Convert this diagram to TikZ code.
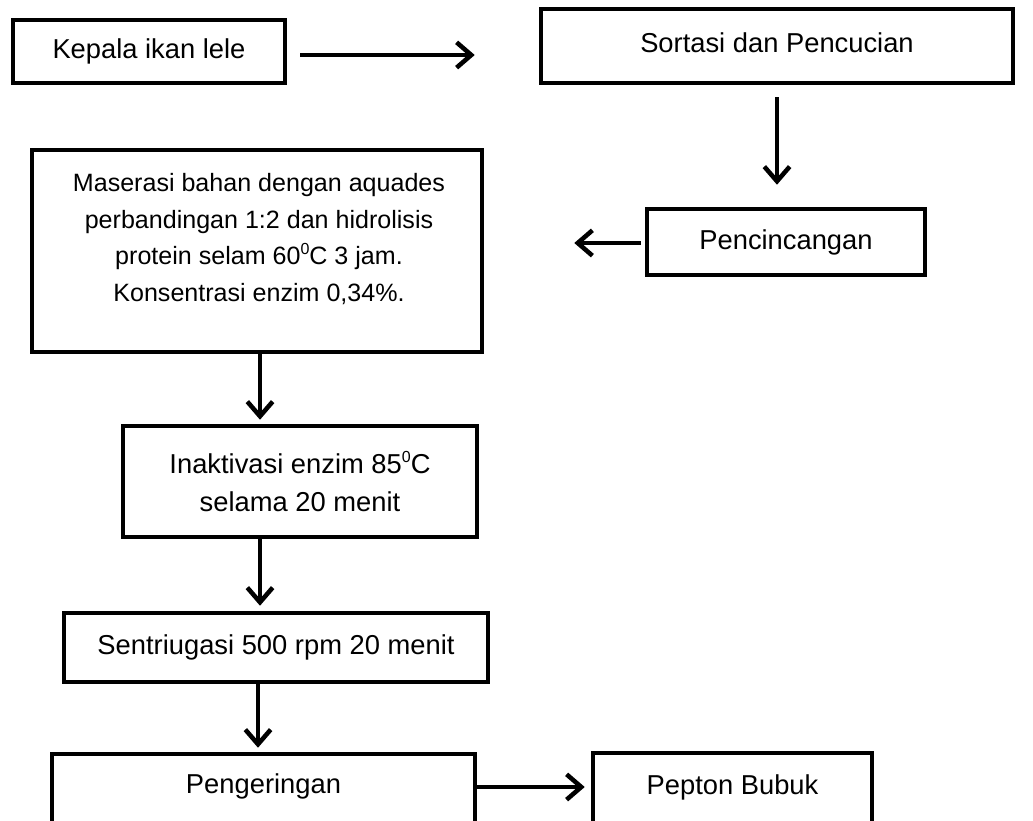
\documentclass[tikz,border=0pt]{standalone}
\usepackage{fontspec}
\setmainfont{Liberation Sans}
\usetikzlibrary{arrows.meta,calc}
\newcommand{\degsup}{\raisebox{0.42em}{\fontsize{12}{12}\selectfont 0}}
\begin{document}
\begin{tikzpicture}[x=0.75pt,y=-0.75pt,
  wh/.style 2 args={minimum width=#1*0.75pt, minimum height=#2*0.75pt},
  box/.style={draw, line width=3.4pt, inner sep=0pt, align=center, font=\fontsize{20.5}{28.5}\selectfont},
  txt/.style={inner sep=0pt, align=center, font=\fontsize{20.5}{28.5}\selectfont},
  smalltxt/.style={inner sep=0pt, align=center, font=\fontsize{18.8}{27.5}\selectfont},
  arr/.style={line width=3.4pt, -{Straight Barb[length=11pt,width=19pt]}}]
\fill[white] (0,0) rectangle (1033,821);
\useasboundingbox (0,0) rectangle (1033,821);
\clip (0,0) rectangle (1033,821);

\node[box, wh={272}{63}] (k) at (149,51.5) {Kepala ikan lele};
\node[box, wh={472}{74}] (s) at (777,46) {};
\node[txt] (st) at (777,43) {Sortasi dan Pencucian};
\node[box, wh={278}{66}] (p) at (786,242) {Pencincangan};
\node[box, wh={450}{202}] (m) at (257,251) {};
\node[smalltxt] (mt) at (259,239) {Maserasi bahan dengan aquades\\perbandingan 1:2 dan hidrolisis\\protein selam 60\degsup C 3 jam.\\Konsentrasi enzim 0,34\%.};
\node[box, wh={354}{111}] (i) at (300,481.5) {Inaktivasi enzim 85\degsup C\\selama 20 menit};
\node[box, wh={424}{69}] (c) at (276,647.5) {Sentriugasi 500 rpm 20 menit};
\node[box, wh={423}{76}] (g) at (263.5,792) {};
\node[txt] (gt) at (263.5,786) {Pengeringan};
\node[box, wh={279}{77}] (b) at (732.5,791.5) {};
\node[txt] (bt) at (732.5,787) {Pepton Bubuk};

\draw[arr] ($(k.east)+(13,3.5)$) -- ($(s.west|-k.east)+(-64,3.5)$);
\draw[arr] ($(s.south)+(0,12)$) -- ($(p.north-|s.south)+(0,-22)$);
\draw[arr] ($(p.west)+(-4,1)$) -- ($(m.east|-p.west)+(90,1)$);
\draw[arr] ($(m.south)+(3,0)$) -- ($(i.north-|m.south)+(3,-4)$);
\draw[arr] ($(i.south)+(-40,0)$) -- ($(c.north-|i.south)+(-40,-5)$);
\draw[arr] ($(c.south)+(-18,0)$) -- ($(g.north-|c.south)+(-18,-4)$);
\draw[arr] ($(g.east)+(0,-5)$) -- ($(b.west|-g.east)+(-6,-5)$);
\end{tikzpicture}
\end{document}
